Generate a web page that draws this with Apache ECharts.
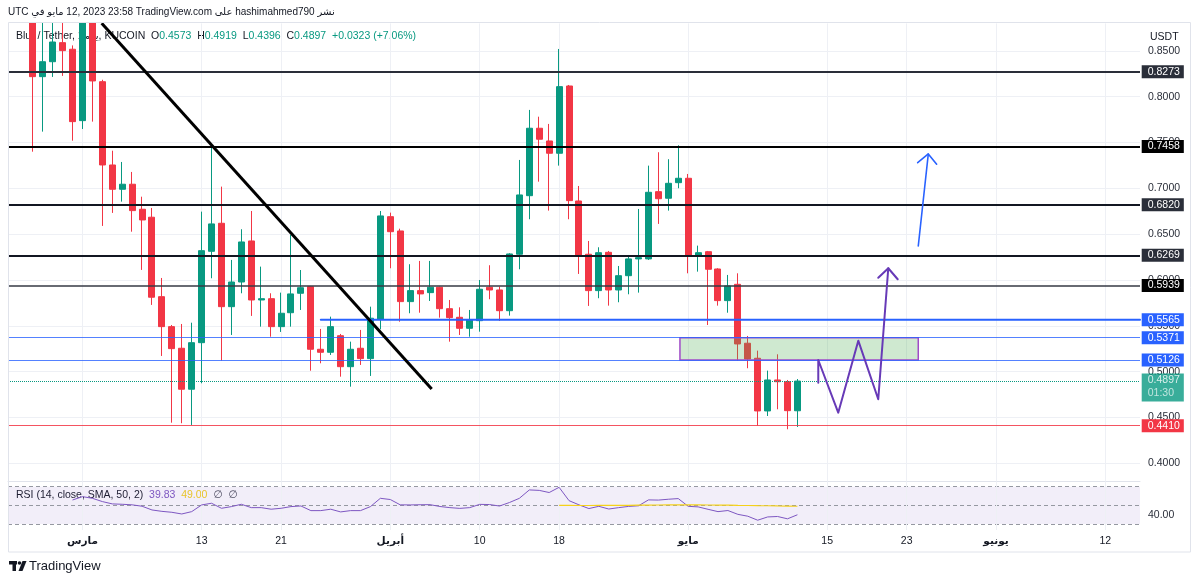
<!DOCTYPE html>
<html><head><meta charset="utf-8">
<script src="https://cdn.jsdelivr.net/npm/echarts@6/dist/echarts.min.js"></script>
<style>html,body{margin:0;padding:0;background:#fff}#c{width:1200px;height:584px}</style>
</head><body><div id="c"></div>
<script>
// ---------------- DATA ----------------
const firstCategory = '2023-02-22';
const categoryCount = 114;           // daily slots shown on the x axis (Feb 22 .. Jun 15)
const candleStart = '2023-02-24';
const opens  = [0.905,0.8219,0.8382,0.8590,0.8518,0.7739,0.893,0.8164,0.7255,0.6990,0.7045,0.6772,0.6685,0.5818,0.5491,0.5255,0.4808,0.5316,0.6313,0.6619,0.5709,0.5978,0.6426,0.5782,0.5796,0.5491,0.5643,0.5855,0.5927,0.5244,0.5211,0.5392,0.5054,0.5255,0.5142,0.5575,0.6691,0.6535,0.5764,0.5884,0.5862,0.5921,0.5687,0.5593,0.5473,0.5556,0.5921,0.5891,0.5665,0.6281,0.6920,0.7656,0.7517,0.7383,0.8117,0.6862,0.6281,0.5884,0.6302,0.5891,0.6047,0.6230,0.6230,0.6964,0.6892,0.7062,0.7110,0.6262,0.6309,0.6120,0.5775,0.5953,0.5310,0.5146,0.4571,0.4909,0.4890,0.4573];
const highs  = [0.93,0.885,0.89,0.885,0.856,0.92,0.91,0.8185,0.7411,0.7288,0.7179,0.6909,0.6786,0.6022,0.5509,0.5520,0.5534,0.6746,0.7455,0.7019,0.6219,0.6554,0.6753,0.6146,0.5855,0.5862,0.6491,0.6109,0.5935,0.5466,0.5600,0.5411,0.5327,0.5455,0.5709,0.6753,0.6735,0.6560,0.6172,0.6208,0.6208,0.5927,0.5782,0.5702,0.5673,0.6000,0.6161,0.5927,0.6292,0.7310,0.7856,0.7782,0.7703,0.8521,0.8128,0.7026,0.6426,0.6357,0.6317,0.6153,0.6273,0.6775,0.7248,0.7394,0.7318,0.7470,0.7157,0.6375,0.6317,0.6128,0.6055,0.6073,0.5389,0.5229,0.5011,0.5189,0.4909,0.4919];
const lows   = [0.7400,0.7619,0.8216,0.8227,0.7520,0.7648,0.7728,0.6590,0.6732,0.6855,0.6527,0.6110,0.5728,0.5171,0.4443,0.4437,0.4418,0.4873,0.6019,0.5120,0.5400,0.5855,0.5608,0.5491,0.5381,0.5433,0.5491,0.5673,0.5010,0.5091,0.5182,0.4945,0.4836,0.5073,0.4953,0.5462,0.6128,0.5545,0.5637,0.5643,0.5771,0.5589,0.5327,0.5400,0.5381,0.5436,0.5790,0.5553,0.5611,0.6117,0.6663,0.7073,0.6757,0.7248,0.6663,0.6066,0.5717,0.5801,0.5720,0.5757,0.5844,0.5862,0.6219,0.6612,0.6757,0.7001,0.6073,0.6091,0.5509,0.5720,0.5643,0.5120,0.5037,0.4410,0.4516,0.4589,0.4371,0.4396];
const closes = [0.8219,0.8382,0.8597,0.8503,0.7728,0.895,0.8172,0.7255,0.6990,0.7045,0.6757,0.6655,0.5812,0.5491,0.5251,0.4808,0.5316,0.6320,0.6612,0.5709,0.5978,0.6415,0.5782,0.5796,0.5491,0.5637,0.5848,0.5916,0.5244,0.5211,0.5491,0.5054,0.5244,0.5142,0.5583,0.6699,0.6527,0.5764,0.5884,0.5848,0.5921,0.5687,0.5589,0.5473,0.5564,0.5899,0.5891,0.5665,0.6284,0.6928,0.7656,0.7536,0.7383,0.8110,0.6866,0.6273,0.5884,0.6298,0.5891,0.6047,0.6230,0.6244,0.6957,0.6887,0.7055,0.7110,0.6265,0.6298,0.6117,0.5775,0.5935,0.5302,0.5138,0.4571,0.4909,0.4890,0.4574,0.4897];

const rsiStart = '2023-02-28';
const rsiValues = [55.7,59.3,57.5,54.0,51.5,51.1,50.5,49.0,45.0,43.5,42.5,40.7,43.2,50.4,52.2,46.8,48.6,51.1,47.5,47.5,45.8,46.8,48.6,49.3,44.3,44.3,45.8,42.9,44.3,44.3,48.6,57.5,56.2,50.5,50.4,50.6,50.7,48.7,47.5,46.7,47.5,51.0,50.8,49.2,53.0,57.5,66.5,66.0,63.7,69.3,55.0,50.5,46.5,48.9,46.0,47.5,48.8,49.5,55.8,55.6,56.5,57.2,48.9,48.3,45.7,43.2,44.4,40.3,38.3,34.0,37.5,38.0,35.5,39.83];
const smaStart = '2023-04-18';
const smaValues = [49.9,49.9,49.8,49.8,49.9,49.9,50.0,50.0,50.1,50.2,50.3,50.4,50.5,50.5,50.4,50.3,50.2,50.1,49.9,49.8,49.6,49.5,49.3,49.2,49.0];
const rsiBands = [70, 50, 30];
const rsiAxisLabels = [40];

const priceTicks = [0.40,0.45,0.50,0.55,0.60,0.65,0.70,0.75,0.80,0.85];
const dateTicks  = ['2023-03-01','2023-03-13','2023-03-21','2023-04-01','2023-04-10','2023-04-18','2023-05-01','2023-05-15','2023-05-23','2023-06-01','2023-06-12'];
const dateTickLabels = ['مارس','13','21','أبريل','10','18','مايو','15','23','يونيو','12'];
const monthTicks = ['2023-03-01','2023-04-01','2023-05-01','2023-06-01'];

const levelPrices = [0.8273,0.7458,0.6820,0.6269,0.5939,0.5565,0.5371,0.5126,0.4410];
const trendLine   = [['2023-03-02T22:26Z',0.8801],['2023-04-05T04:05Z',0.4811]];
const supportLine = [['2023-03-25T00:00Z',0.5565],['2023-06-15T12:00Z',0.5565]];
const zoneBox     = [['2023-04-30T04:05Z',0.5371],['2023-05-24T04:05Z',0.5126]];
const zigzagPath  = [['2023-05-14T02:24Z',0.4880],['2023-05-14T02:24Z',0.5127],['2023-05-16T02:38Z',0.4552],['2023-05-18T03:07Z',0.5338],['2023-05-20T03:22Z',0.4699],['2023-05-21T03:36Z',0.6128]];
const zigzagHead  = [['2023-05-20T03:22Z',0.6025],['2023-05-21T03:36Z',0.6128],['2023-05-22T02:24Z',0.6008]];
const blueArrow   = [['2023-05-24T04:05Z',0.6371],['2023-05-25T04:19Z',0.7375]];
const blueHead    = [['2023-05-24T02:38Z',0.7280],['2023-05-25T04:19Z',0.7375],['2023-05-26T00:29Z',0.7263]];
const countdown = '01:30';
// header words in their visual left-to-right order
const headerWords = ['UTC', 'في', 'مايو', '12, 2023 23:58', 'TradingView.com', 'على', 'hashimahmed790', 'نشر'];

// ---------------- BUILD ----------------
const DAY = 86400000;
const FONT = '"Liberation Sans", Arial, "DejaVu Sans", sans-serif';
const t0 = Date.parse(firstCategory + 'T00:00:00Z');
const key = ms => new Date(ms).toISOString().slice(0, 10);
const categories = [];
for (let i = 0; i < categoryCount; i++) categories.push(key(t0 + i * DAY));
const idxOf = d => categories.indexOf(d);
const EMPTY4 = ['-','-','-','-'];
const cStart = idxOf(candleStart);
const candleData = categories.map((c, i) => {
  const k = i - cStart;
  return (k >= 0 && k < opens.length) ? [opens[k], closes[k], lows[k], highs[k]] : EMPTY4;
});
const fillSeries = (start, vals) => { const s = idxOf(start); return categories.map((c, i) => (i - s >= 0 && i - s < vals.length) ? vals[i - s] : '-'); };
const rsiData = fillSeries(rsiStart, rsiValues);
const smaData = fillSeries(smaStart, smaValues);
const tp = arr => arr.map(p => [Date.parse(p[0]), p[1]]);
const tMin = t0 - DAY / 2, tMax = t0 + (categoryCount - 1) * DAY + DAY / 2;

const n = closes.length;
const lastO = opens[n-1], lastH = highs[n-1], lastL = lows[n-1], lastC = closes[n-1];
const chg = lastC - closes[n-2], chgPct = chg / closes[n-2] * 100;

const levelStyle = [
  {line:'#2a2e39', w:2, tag:'#2a2e39'},
  {line:'#000000', w:2, tag:'#000000'},
  {line:'#131722', w:2, tag:'#2a2e39'},
  {line:'#131722', w:2, tag:'#2a2e39'},
  {line:'#363a45', w:1.5, tag:'#000000'},
  {line:'rgba(0,0,0,0)', w:0, tag:'#2962ff'},
  {line:'rgba(41,98,255,0.8)', w:1.2, tag:'#2962ff'},
  {line:'rgba(41,98,255,0.8)', w:1.2, tag:'#2962ff'},
  {line:'rgba(242,54,69,0.85)', w:1, tag:'#f23645'}
];
const tagLabel = (bg, v) => ({show:true, position:'end', distance:1.7, backgroundColor:bg, color:'#fff',
  fontSize:10.5, fontFamily:FONT, padding:[1,4,1,6], lineHeight:11, formatter: v.toFixed(4)});
const levelLines = levelPrices.map((v, i) => ({yAxis: v,
  lineStyle:{color: levelStyle[i].line, width: levelStyle[i].w, type:'solid'},
  label: tagLabel(levelStyle[i].tag, v)}));
levelLines.push({yAxis: lastC, lineStyle:{color:'#089981', width:1, type:'dotted'}, label:{show:false}});

const gridLineStyle = {color:'#eef0f5', width:1, type:'solid'};
const mainGridLines = priceTicks.map(v => ({yAxis:v})).concat(dateTicks.map(d => ({xAxis:d})));
const rsiLines = rsiBands.map(v => ({yAxis:v, lineStyle:{color:'#9598a1', width:1, type:[4,3]}}))
  .concat(dateTicks.map(d => ({xAxis:d, lineStyle: gridLineStyle})));

const lineSeries = (data, color, width, z) => ({type:'line', xAxisIndex:1, yAxisIndex:0, data: tp(data),
  symbol:'none', silent:true, z, clip:true, lineStyle:{color, width, cap:'round', join:'round'}});

const trend = lineSeries(trendLine, '#000000', 3, 6);
trend.lineStyle.cap = 'butt';
trend.markLine = {silent:true, symbol:['none','none'], z:5, precision:4, data: levelLines, animation:false};
const support = lineSeries(supportLine, '#2962ff', 2, 5);
support.markArea = {silent:true, z:3, itemStyle:{color:'rgba(76,175,80,0.27)', borderColor:'#a04bc8', borderWidth:1.5},
  data:[[{coord:[Date.parse(zoneBox[0][0]), zoneBox[0][1]]},{coord:[Date.parse(zoneBox[1][0]), zoneBox[1][1]]}]]};

// header: lay out each word separately (keeps visual order of mixed Arabic / Latin text)
const measureCtx = document.createElement('canvas').getContext('2d');
const HEAD_FONT = '10px ' + FONT;
measureCtx.font = HEAD_FONT;
const spaceW = measureCtx.measureText(' ').width;
let hx = 8;
const headerEls = headerWords.map(w => {
  const el = {type:'text', z:21, x:hx, y:12, silent:true, style:{text:w, verticalAlign:'middle', fill:'#131722', font:HEAD_FONT}};
  hx += measureCtx.measureText(w).width + spaceW;
  return el;
});

const option = {
  animation:false,
  backgroundColor:'#ffffff',
  grid:[
    {left:8, top:23.4, width:1132, height:458.2, outerBoundsMode:'none'},
    {left:8, top:482, width:1132, height:48, outerBoundsMode:'none'}
  ],
  xAxis:[
    {type:'category', gridIndex:0, data:categories, boundaryGap:true,
      axisLine:{show:true, lineStyle:{color:'#e0e3eb', width:1}}, axisTick:{show:false}, axisLabel:{show:false}, splitLine:{show:false}},
    {type:'time', gridIndex:0, min:tMin, max:tMax, show:false},
    {type:'category', gridIndex:1, data:categories, boundaryGap:true,
      axisLine:{show:false}, axisTick:{show:false}, splitLine:{show:false},
      axisLabel:{margin:6, color:'#131722', fontSize:10.5, fontFamily:FONT,
        interval:(i, v) => dateTicks.indexOf(v) >= 0,
        formatter:(v) => { const k = dateTicks.indexOf(v); if (k < 0) return ''; return monthTicks.indexOf(v) >= 0 ? '{m|' + dateTickLabels[k] + '}' : dateTickLabels[k]; },
        rich:{m:{fontWeight:'bold', fontSize:10.5, fontFamily:FONT, color:'#131722'}}}}
  ],
  yAxis:[
    {type:'value', gridIndex:0, position:'right', min:0.38, max:0.88, scale:true,
      axisLine:{show:false}, axisTick:{show:false}, splitLine:{show:false},
      axisLabel:{customValues:priceTicks, margin:8, color:'#2a2e39', fontSize:10.5, fontFamily:FONT, formatter:v => v.toFixed(4)}},
    {type:'value', gridIndex:1, position:'right', min:23.5, max:75,
      axisLine:{show:false}, axisTick:{show:false}, splitLine:{show:false},
      axisLabel:{customValues:rsiAxisLabels, margin:8, color:'#2a2e39', fontSize:10.5, fontFamily:FONT, formatter:v => v.toFixed(2)}}
  ],
  series:[
    {type:'candlestick', xAxisIndex:0, yAxisIndex:0, data:candleData, barWidth:6.5, z:2, silent:true, clip:true,
      itemStyle:{color:'#089981', color0:'#f23645', borderColor:'#089981', borderColor0:'#f23645', borderWidth:1},
      markLine:{silent:true, z:1, symbol:['none','none'], label:{show:false}, lineStyle:gridLineStyle, data:mainGridLines}},
    trend,
    support,
    lineSeries(zigzagPath, '#673ab7', 2, 6),
    lineSeries(zigzagHead, '#673ab7', 2, 6),
    lineSeries(blueArrow, '#2962ff', 1.6, 6),
    lineSeries(blueHead, '#2962ff', 1.6, 6),
    {type:'scatter', xAxisIndex:1, yAxisIndex:0, data:[[tMax, lastC]], symbolSize:0, z:7, silent:true, clip:false,
      label:{show:true, position:'right', distance:1.7, offset:[0,6.5], backgroundColor:'#089981', padding:[1,4,2,6],
        formatter: () => '{a|' + lastC.toFixed(4) + '}\n{b|' + countdown + '}',
        rich:{a:{color:'#fff', fontSize:10.5, fontFamily:FONT, lineHeight:12},
              b:{color:'rgba(255,255,255,0.85)', fontSize:10.5, fontFamily:FONT, lineHeight:13}}}},
    {type:'line', xAxisIndex:2, yAxisIndex:1, data:rsiData, symbol:'none', silent:true, z:3,
      lineStyle:{color:'#7e57c2', width:1},
      markArea:{silent:true, z:1, itemStyle:{color:'rgba(126,87,194,0.1)'}, data:[[{yAxis:rsiBands[0]},{yAxis:rsiBands[2]}]]},
      markLine:{silent:true, z:1, symbol:['none','none'], label:{show:false}, data:rsiLines}},
    {type:'line', xAxisIndex:2, yAxisIndex:1, data:smaData, symbol:'none', silent:true, z:3,
      lineStyle:{color:'#f5d11a', width:1.2}}
  ],
  graphic:[
    // mask above the price pane (candles that run past the top are cut off like in the original)
    {type:'rect', z:20, silent:true, shape:{x:0, y:0, width:1200, height:22.5}, style:{fill:'#ffffff'}},
    {type:'rect', z:21, silent:true, shape:{x:8.5, y:22.5, width:1182, height:529.5}, style:{fill:'none', stroke:'#e0e3eb', lineWidth:1}},
    {type:'text', z:0, x:16, y:36, silent:true, style:{
      text:'{d|Blur / Tether, 1}{d|يوم}{d|, KUCOIN  O}{g|' + lastO.toFixed(4) + '}{d|  H}{g|' + lastH.toFixed(4) + '}{d|  L}{g|' + lastL.toFixed(4) + '}{d|  C}{g|' + lastC.toFixed(4) + '}{g|  ' + (chg >= 0 ? '+' : '') + chg.toFixed(4) + ' (' + (chg >= 0 ? '+' : '') + chgPct.toFixed(2) + '%)}',
      verticalAlign:'middle', font:'10.5px ' + FONT,
      rich:{d:{fill:'#131722', fontSize:10.5, fontFamily:FONT}, g:{fill:'#089981', fontSize:10.5, fontFamily:FONT}}}},
    {type:'text', z:0, x:16, y:495, silent:true, style:{
      text:'{d|RSI (14, close, SMA, 50, 2)  }{p|' + rsiValues[rsiValues.length-1].toFixed(2) + '}{d|  }{y|' + smaValues[smaValues.length-1].toFixed(2) + '}{n|  ∅  ∅}',
      verticalAlign:'middle', font:'10.5px ' + FONT,
      rich:{d:{fill:'#131722', fontSize:10.5, fontFamily:FONT}, p:{fill:'#7e57c2', fontSize:10.5, fontFamily:FONT},
            y:{fill:'#f5d11a', fontSize:10.5, fontFamily:FONT}, n:{fill:'#50535e', fontSize:10.5, fontFamily:FONT}}}},
    {type:'text', z:0, x:1150, y:37, silent:true, style:{text:'USDT', verticalAlign:'middle', fill:'#131722', font:'10.5px ' + FONT}},
    {type:'group', z:0, silent:true, children:[
      {type:'rect', shape:{x:9, y:561, width:8, height:3.5}, style:{fill:'#131722'}},
      {type:'rect', shape:{x:12.5, y:561, width:3.5, height:10}, style:{fill:'#131722'}},
      {type:'circle', shape:{cx:19.5, cy:563, r:1.8}, style:{fill:'#131722'}},
      {type:'polygon', shape:{points:[[18.5,571],[22.5,561],[26.5,561],[22.5,571]]}, style:{fill:'#131722'}},
      {type:'text', x:29, y:566.5, style:{text:'TradingView', verticalAlign:'middle', fill:'#131722', font:'13px ' + FONT}}
    ]}
  ].concat(headerEls)
};
const chart = echarts.init(document.getElementById('c'), null, {renderer:'canvas'});
chart.setOption(option);
</script>
</body></html>
